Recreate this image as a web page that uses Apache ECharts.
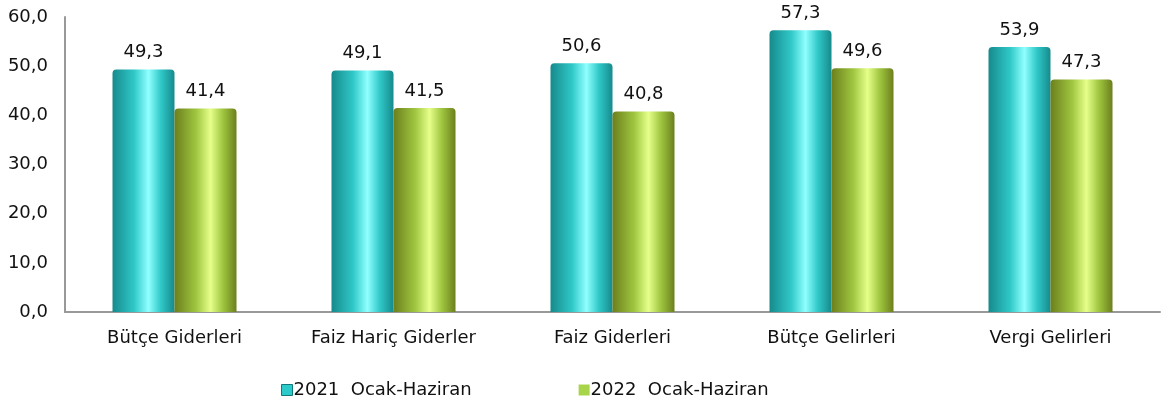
<!DOCTYPE html>
<html>
<head>
<meta charset="utf-8">
<script src="https://cdn.jsdelivr.net/npm/echarts@6/dist/echarts.min.js"></script>
<style>
  html, body { margin: 0; padding: 0; background: #fff; }
  #chart { width: 1173px; height: 410px; }
</style>
</head>
<body>
<div id="chart"></div>
<script>
const categories = ['Bütçe Giderleri', 'Faiz Hariç Giderler', 'Faiz Giderleri', 'Bütçe Gelirleri', 'Vergi Gelirleri'];
const seriesNames = ['2021  Ocak-Haziran', '2022  Ocak-Haziran'];
const values2021 = [49.3, 49.1, 50.6, 57.3, 53.9];
const values2022 = [41.4, 41.5, 40.8, 49.6, 47.3];

const font = '"DejaVu Sans", sans-serif';

// cylinder-ish horizontal gradient
function cyl(dark, mid, light) {
  return new echarts.graphic.LinearGradient(0, 0, 1, 0, [
    { offset: 0, color: dark },
    { offset: 0.35, color: mid },
    { offset: 0.58, color: light },
    { offset: 0.78, color: mid },
    { offset: 1, color: dark }
  ]);
}

const chart = echarts.init(document.getElementById('chart'));
const fmt = v => v.toFixed(1).replace('.', ',');

chart.setOption({
  animation: false,
  textStyle: { fontFamily: font },
  grid: { left: 65, right: 13, top: 17, bottom: 98 },
  legend: {
    bottom: 6,
    left: 276,
    itemGap: 107,
    itemWidth: 11,
    itemHeight: 11,
    icon: 'rect',
    textStyle: { fontSize: 18, color: '#111', fontFamily: font, padding: [0, 0, 0, -4] },
    data: [
      { name: seriesNames[0], itemStyle: { color: '#2ccaca', borderColor: '#137878', borderWidth: 1 } },
      { name: seriesNames[1], itemStyle: { color: '#a8d44a', borderWidth: 0 } }
    ]
  },
  xAxis: {
    type: 'category',
    data: categories,
    axisLine: { lineStyle: { color: '#999', width: 2 } },
    axisTick: { show: false },
    axisLabel: { fontSize: 18, color: '#111', margin: 17 }
  },
  yAxis: {
    type: 'value',
    min: 0,
    max: 60,
    interval: 10,
    axisLine: { show: true, lineStyle: { color: '#999', width: 2 } },
    axisTick: { show: false },
    splitLine: { show: false },
    axisLabel: { fontSize: 18, color: '#111', margin: 17, formatter: fmt }
  },
  series: [
    {
      name: seriesNames[0],
      type: 'bar',
      data: values2021,
      barWidth: 62,
      barGap: '0%',
      itemStyle: { color: cyl('#168a8c', '#30c8c8', '#90ffff'), borderRadius: [4, 4, 0, 0] },
      label: { show: true, position: 'top', distance: 8, fontSize: 18, color: '#111', formatter: p => fmt(p.value) }
    },
    {
      name: seriesNames[1],
      type: 'bar',
      data: values2022,
      barWidth: 62,
      itemStyle: { color: cyl('#6c7f1c', '#9fc640', '#e6ff8a'), borderRadius: [4, 4, 0, 0] },
      label: { show: true, position: 'top', distance: 8, fontSize: 18, color: '#111', formatter: p => fmt(p.value) }
    }
  ]
});
</script>
</body>
</html>
